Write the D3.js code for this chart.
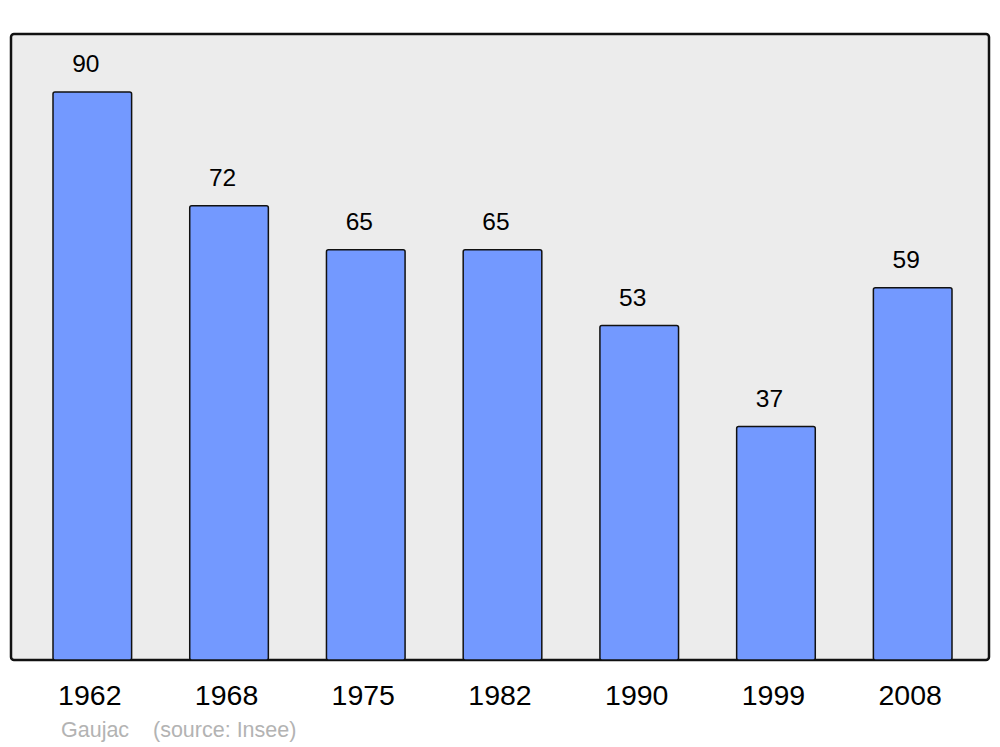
<!DOCTYPE html>
<html><head><meta charset="utf-8">
<script src="https://cdn.jsdelivr.net/npm/d3@7/dist/d3.min.js"></script>
<style>body{margin:0;background:#fff}svg{display:block}</style>
</head><body>
<script>
const years = ["1962","1968","1975","1982","1990","1999","2008"];
const values = [90,72,65,65,53,37,59];
const commune = "Gaujac";
const source = "(source: Insee)";

const W = 1000, H = 747;
const svg = d3.select("body").append("svg").attr("width", W).attr("height", H)
  .style("font-family", "'Liberation Sans', Arial, sans-serif");

const frame = {x0: 11, x1: 989, y0: 34, y1: 660};
svg.append("rect").attr("x", frame.x0).attr("y", frame.y0)
  .attr("width", frame.x1 - frame.x0).attr("height", frame.y1 - frame.y0)
  .attr("rx", 3).attr("fill", "#ececec").attr("stroke", "#111").attr("stroke-width", 2.5);

const x = d3.scaleBand().domain(years).range([53, 952]).paddingInner(0.425).paddingOuter(0);
const y = d3.scaleLinear().domain([0, 99.2]).range([frame.y1, frame.y0]);

svg.append("g").selectAll("rect").data(years).join("rect")
  .attr("x", d => x(d)).attr("width", x.bandwidth())
  .attr("y", (d, i) => y(values[i])).attr("height", (d, i) => y(0) - y(values[i]))
  .attr("rx", 2).attr("fill", "#7399ff").attr("stroke", "#111").attr("stroke-width", 1.5);

svg.append("g").selectAll("text").data(years).join("text")
  .attr("x", d => x(d) + x.bandwidth() / 2 - 6.5)
  .attr("y", (d, i) => y(values[i]) - 20)
  .attr("text-anchor", "middle").attr("font-size", 24.5).attr("fill", "#000")
  .text((d, i) => values[i]);

const xAxis = svg.append("g").attr("transform", `translate(0,${frame.y1})`)
  .call(d3.axisBottom(x).tickSize(0).tickPadding(0));
xAxis.select(".domain").remove();
xAxis.selectAll("text").attr("font-size", 28.5).attr("fill", "#000")
  .attr("font-family", "'Liberation Sans', Arial, sans-serif")
  .attr("dy", null).attr("y", 44.5).attr("x", -2.5);

svg.append("text").attr("x", 61).attr("y", 737).attr("font-size", 21.5).attr("fill", "#b3b3b3").text(commune);
svg.append("text").attr("x", 153).attr("y", 737).attr("font-size", 21.5).attr("fill", "#b3b3b3").text(source);
</script>
</body></html>
